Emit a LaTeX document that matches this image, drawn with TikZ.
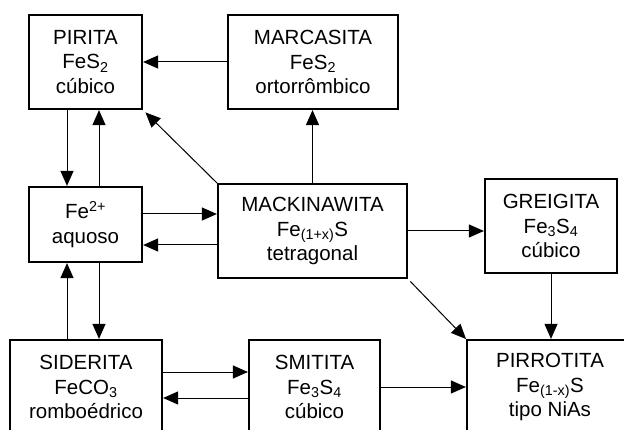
\documentclass[tikz,border=0pt]{standalone}
\usepackage{fontspec}
\setmainfont{Liberation Sans}
\usetikzlibrary{arrows.meta,calc,positioning}
\tikzset{>={Triangle[length=15pt,width=13pt]},line width=1pt,
  every node/.style={font=\fontsize{20.5}{24.5}\selectfont},
  mineral/.style={draw,line width=1.2pt,align=center,inner sep=0pt,minimum height=94pt},
  flow/.style={->,line width=1pt,shorten >=.5pt}}
\begin{document}
\begin{tikzpicture}[x=1pt,y=-1pt]
\useasboundingbox(0,0)rectangle(624,430);
% minerais
\node[mineral,minimum width=113pt](pirita)at(85.5,62){PIRITA\\FeS\textsubscript{2}\\cúbico};
\node[mineral,minimum width=170pt](marcasita)at(313,62){MARCASITA\\FeS\textsubscript{2}\\ortorrômbico};
\node[mineral,minimum width=113pt,minimum height=75pt](fe)at(85.5,224.5){Fe\textsuperscript{2+}\\aquoso};
\node[mineral,minimum width=189pt](mack)at(312.5,231){MACKINAWITA\\Fe\textsubscript{(1+x)}S\\tetragonal};
\node[mineral,minimum width=132pt](greigita)at(551,226){GREIGITA\\Fe\textsubscript{3}S\textsubscript{4}\\cúbico};
\node[mineral,minimum width=152pt](siderita)at(86,387){SIDERITA\\FeCO\textsubscript{3}\\romboédrico};
\node[mineral,minimum width=131pt](smitita)at(314.5,387){SMITITA\\Fe\textsubscript{3}S\textsubscript{4}\\cúbico};
\node[mineral,minimum width=166pt](pirrotita)at(550,387){PIRROTITA\\Fe\textsubscript{(1-x)}S\\tipo NiAs};
% transformacoes
\draw[flow](marcasita.west)--(pirita.east);
\draw[flow]([xshift=-18.5]pirita.south)--([xshift=-18.5]fe.north);
\draw[flow]([xshift=13.5]fe.north)--([xshift=13.5]pirita.south);
\draw[flow]([xshift=13.5]fe.south)--([xshift=13.5]fe.south|-siderita.north);
\draw[flow]([xshift=-18.5]fe.south|-siderita.north)--([xshift=-18.5]fe.south);
\draw[flow]([yshift=10.5]fe.east)--([yshift=10.5]fe.east-|mack.west);
\draw[flow]([yshift=-20.5]fe.east-|mack.west)--([yshift=-20.5]fe.east);
\draw[flow](mack.north)--(mack.north|-marcasita.south);
\draw[flow,shorten >=4pt](mack.north west)--(pirita.south east);
\draw[flow](mack.east)--(mack.east-|greigita.west);
\draw[flow](greigita.south)--(greigita.south|-pirrotita.north);
\draw[flow,shorten <=4pt](mack.south east)--(pirrotita.north west);
\draw[flow]([yshift=15]siderita.east)--([yshift=15]siderita.east-|smitita.west);
\draw[flow]([yshift=-11]smitita.west)--([yshift=-11]siderita.east);
\draw[flow](smitita.east)--(smitita.east-|pirrotita.west);
\end{tikzpicture}
\end{document}
